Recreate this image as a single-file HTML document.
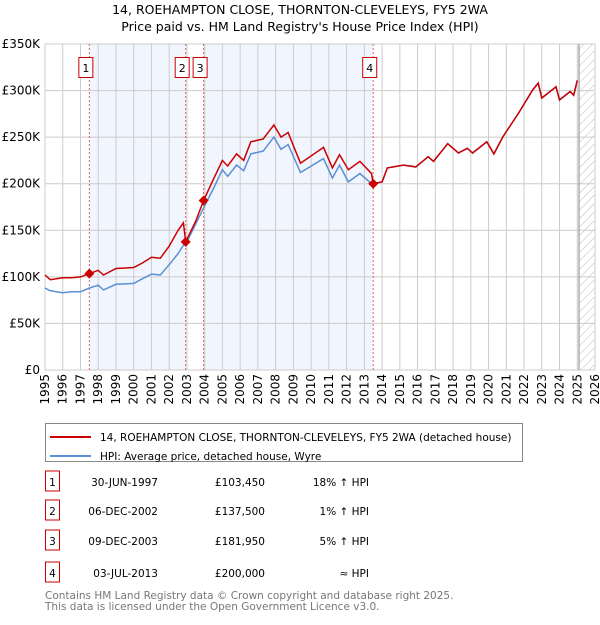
<!DOCTYPE html>
<html><head><meta charset="utf-8"><style>
body{margin:0;background:#fff;font-family:"Liberation Sans","DejaVu Sans",sans-serif;}
svg text{font-family:"DejaVu Sans","Liberation Sans",sans-serif;}
</style></head><body>
<svg id="c" width="600" height="620" xmlns="http://www.w3.org/2000/svg">
<defs><pattern id="hatch" width="6" height="6" patternUnits="userSpaceOnUse" patternTransform="rotate(45)"><line x1="0" y1="0" x2="0" y2="6" stroke="#bbb" stroke-width="1"/></pattern></defs>
<text x="300" y="14" text-anchor="middle" font-size="12.5">14, ROEHAMPTON CLOSE, THORNTON-CLEVELEYS, FY5 2WA</text>
<text x="300" y="31" text-anchor="middle" font-size="12.5">Price paid vs. HM Land Registry's House Price Index (HPI)</text>
<g id="plot"></g>
<g>
<rect x="45.5" y="423.5" width="477" height="38" fill="#fff" stroke="#888"/>
<line x1="50" y1="437" x2="91" y2="437" stroke="#cc0000" stroke-width="2"/>
<text x="100" y="441" font-size="10.5">14, ROEHAMPTON CLOSE, THORNTON-CLEVELEYS, FY5 2WA (detached house)</text>
<line x1="50" y1="456" x2="91" y2="456" stroke="#5b8fd6" stroke-width="2"/>
<text x="100" y="460" font-size="10.5">HPI: Average price, detached house, Wyre</text>
</g>
<g id="table" font-size="10.5"></g>
<text x="45" y="599" font-size="10.5" fill="#777">Contains HM Land Registry data © Crown copyright and database right 2025.</text>
<text x="45" y="610" font-size="10.5" fill="#777">This data is licensed under the Open Government Licence v3.0.</text>
</svg>
<script>
const years=[1995.0,1995.3,1996,1996.5,1997,1997.5,1998,1998.3,1999,2000,2000.5,2001,2001.5,2002,2002.5,2002.8,2002.93,2003.5,2003.94,2004.5,2005,2005.3,2005.8,2006.2,2006.6,2007.3,2007.9,2008.3,2008.7,2009.1,2009.4,2010.7,2011.2,2011.6,2012.1,2012.75,2013.4,2013.5,2014,2014.3,2015.2,2015.9,2016.6,2016.9,2017.7,2018.3,2018.8,2019.1,2019.9,2020.3,2020.8,2021.7,2022.5,2022.8,2023,2023.8,2024,2024.6,2024.8,2025.0];
const hpiValues=[88,85,83,84,84,88,91,86,92,93,98,103,102,113,125,134,135,157,174,195,215,208,220,214,232,235,250,237,242,225,212,227,206,220,202,211,200,200,202,217,220,218,229,224,243,233,238,233,245,232,250,276,301,308,292,304,290,299,295,311];
const priceValues=[102,97,99,99,100,103.45,107,102,109,110,115,121,120,133,150,158,137.5,160,181.95,205,225,219,232,225,245,248,263,250,255,236,222,239,217,231,215,224,211,200,202,217,220,218,229,224,243,233,238,233,245,232,250,276,301,308,292,304,290,299,295,311];
const sales=[{n:"1",y:1997.5,v:103.45,d:"30-JUN-1997",p:"£103,450",h:"18% ↑ HPI"},{n:"2",y:2002.93,v:137.5,d:"06-DEC-2002",p:"£137,500",h:"1% ↑ HPI"},{n:"3",y:2003.94,v:181.95,d:"09-DEC-2003",p:"£181,950",h:"5% ↑ HPI"},{n:"4",y:2013.5,v:200,d:"03-JUL-2013",p:"£200,000",h:"≈ HPI"}];
const yTicks=[0,50,100,150,200,250,300,350];
const yTickLabels=["£0","£50K","£100K","£150K","£200K","£250K","£300K","£350K"];
const xTicks=[1995,1996,1997,1998,1999,2000,2001,2002,2003,2004,2005,2006,2007,2008,2009,2010,2011,2012,2013,2014,2015,2016,2017,2018,2019,2020,2021,2022,2023,2024,2025,2026];
const X0=45,X1=595,Y0=370,Y1=44;
const sx=y=>X0+(y-1995)/(2026-1995)*(X1-X0);
const sy=v=>Y0-v/350*(Y0-Y1);
const NS="http://www.w3.org/2000/svg";
const g=document.getElementById('plot');
function mk(t,a,p){const e=document.createElementNS(NS,t);for(const k in a)e.setAttribute(k,a[k]);(p||g).appendChild(e);return e;}
let r=mk('rect',{x:sx(sales[0].y),y:Y1,width:sx(sales[1].y)-sx(sales[0].y),height:Y0-Y1,fill:'#eef2fc',opacity:0.8});


r=mk('rect',{x:sx(sales[2].y),y:Y1,width:sx(sales[3].y)-sx(sales[2].y),height:Y0-Y1,fill:'#eef2fc',opacity:0.8});


r=mk('rect',{x:sx(2025.1),y:Y1,width:X1-sx(2025.1),height:Y0-Y1,fill:'url(#hatch)'});


xTicks.forEach(t=>{mk('line',{x1:sx(t),x2:sx(t),y1:Y1,y2:Y0,stroke:'#ccc','stroke-width':1});
 const tx=mk('text',{x:0,y:0,'font-size':12,'text-anchor':'end',transform:`translate(${sx(t)+4},${Y0+4}) rotate(-90)`});tx.textContent=t;
 
 });
yTicks.forEach((t,i)=>{mk('line',{x1:X0,x2:X1,y1:sy(t),y2:sy(t),stroke:'#ccc','stroke-width':1});
 const tx=mk('text',{x:40,y:sy(t)+4,'font-size':12,'text-anchor':'end'});tx.textContent=yTickLabels[i];
 
 });
mk('rect',{x:X0,y:Y1,width:X1-X0,height:Y0-Y1,fill:'none',stroke:'#ccc'});
mk('line',{x1:sx(2025.1),x2:sx(2025.1),y1:Y1,y2:Y0,stroke:'#999','stroke-width':1.2});
sales.forEach(s=>{const l=mk('line',{x1:sx(s.y),x2:sx(s.y),y1:Y1,y2:Y0,stroke:'#e06060','stroke-dasharray':'2,2','stroke-width':1});
 
 
 const bx=sx(s.y)-10;
 const b=mk('rect',{x:bx-0.5,y:57.5,width:14,height:20,fill:'#fff',stroke:'#cc0000'});
 
 
 const t=mk('text',{x:bx+6.5,y:72,'font-size':11,'text-anchor':'middle'});t.textContent=s.n;
 
 });
const path=a=>years.map((y,i)=>(i?'L':'M')+sx(y).toFixed(1)+','+sy(a[i]).toFixed(1)).join('');
let p=mk('path',{d:path(hpiValues),fill:'none',stroke:'#5b8fd6','stroke-width':1.5});


p=mk('path',{d:path(priceValues),fill:'none',stroke:'#cc0000','stroke-width':1.5});


sales.forEach(s=>{const x=sx(s.y),y=sy(s.v);const d=mk('path',{d:`M${x},${y-5}L${x+5},${y}L${x},${y+5}L${x-5},${y}Z`,fill:'#cc0000'});
 
 });
const tb=document.getElementById('table');
const rowsY=[484,513,543,575];
sales.forEach((s,i)=>{const y=rowsY[i];
 const b=mk('rect',{x:45.5,y:y-13,width:14,height:20,fill:'#fff',stroke:'#cc0000'},tb);
 
 
 const cells=[[52.5,s.n,'middle'],[158,s.d,'end'],[265,s.p,'end'],[369,s.h,'end']];
 cells.forEach(c=>{const t=mk('text',{x:c[0],y:y+2,'text-anchor':c[2]},tb);t.textContent=c[1];
 
 });});
</script>
</body></html>
